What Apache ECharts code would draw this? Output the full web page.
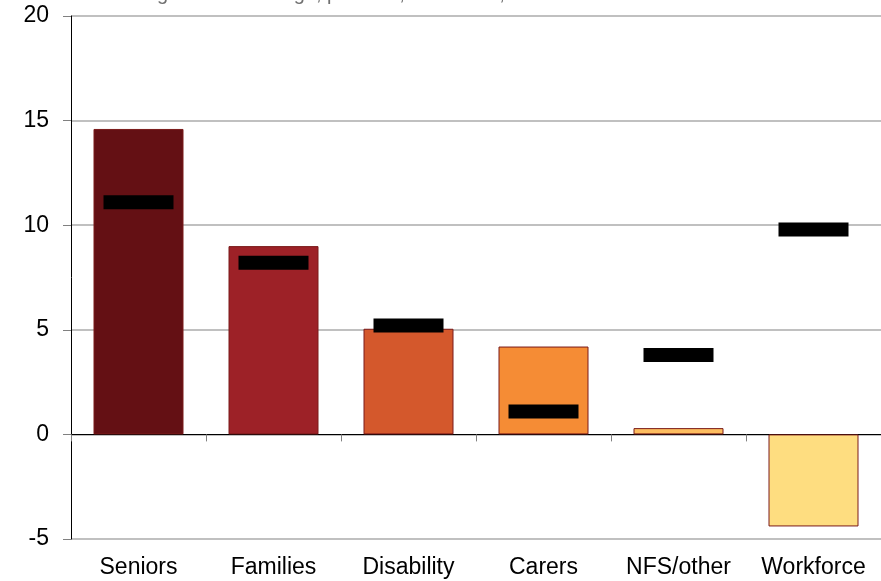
<!DOCTYPE html>
<html>
<head>
<meta charset="utf-8">
<script src="https://cdn.jsdelivr.net/npm/echarts@6/dist/echarts.min.js"></script>
<style>html,body{margin:0;padding:0;background:#fff;}#c{width:881px;height:581px;}</style>
</head>
<body>
<div id="c"></div>
<script>
const categories = ['Seniors', 'Families', 'Disability', 'Carers', 'NFS/other', 'Workforce'];
const barValues = [14.6, 9.0, 5.05, 4.2, 0.3, -4.4];
const markerValues = [11.1, 8.2, 5.2, 1.1, 3.8, 9.8];
const barColors = ['#641014', '#9d2127', '#d4582c', '#f58c35', '#fdbd5f', '#fedd80'];
const yTicks = [-5, 0, 5, 10, 15, 20];
const titleText = 'Average annual change, per cent, real terms, 2009-10 to 2013-14';

const chart = echarts.init(document.getElementById('c'), null, {renderer: 'canvas'});
chart.setOption({
  animation: false,
  backgroundColor: '#fff',
  graphic: [{
    type: 'text', left: 105, top: -16,
    style: {text: titleText, font: '20px "Liberation Sans", Arial, sans-serif', fill: '#707070'}
  }],
  grid: {left: 71, right: 0, top: 16, bottom: 42, containLabel: false},
  xAxis: [{
    type: 'category', data: categories, position: 'bottom',
    axisLine: {show: false, onZero: false}, axisTick: {show: false},
    axisLabel: {color: '#000', fontSize: 23, fontFamily: '"Liberation Sans", Arial, sans-serif', margin: 17, interval: 0},
    splitLine: {show: false}
  }, {
    type: 'category', data: categories, position: 'bottom',
    axisLine: {show: true, onZero: true, lineStyle: {color: '#000', width: 1}},
    axisTick: {show: true, inside: false, length: 7, alignWithLabel: false, lineStyle: {color: '#808080'}},
    axisLabel: {show: false}
  }],
  yAxis: {
    type: 'value', min: -5, max: 20, interval: 5,
    axisLine: {show: true, lineStyle: {color: '#000', width: 1}},
    axisTick: {show: true, length: 8, lineStyle: {color: '#808080'}},
    axisLabel: {color: '#000', fontSize: 23, fontFamily: '"Liberation Sans", Arial, sans-serif', margin: 22,
      formatter: v => yTicks.includes(v) ? String(v) : ''},
    splitLine: {show: true, lineStyle: {color: '#c0c0c0', width: 2}}
  },
  series: [{
    type: 'bar', xAxisIndex: 0, barWidth: 90,
    data: barValues.map((v, i) => ({value: v, itemStyle: {color: barColors[i]}})),
    itemStyle: {borderColor: '#7a1a1a', borderWidth: 1},
    z: 2
  }, {
    type: 'scatter', xAxisIndex: 0, symbol: 'rect', symbolSize: [70, 14],
    data: markerValues,
    itemStyle: {color: '#000', opacity: 1},
    z: 5
  }]
});
</script>
</body>
</html>
